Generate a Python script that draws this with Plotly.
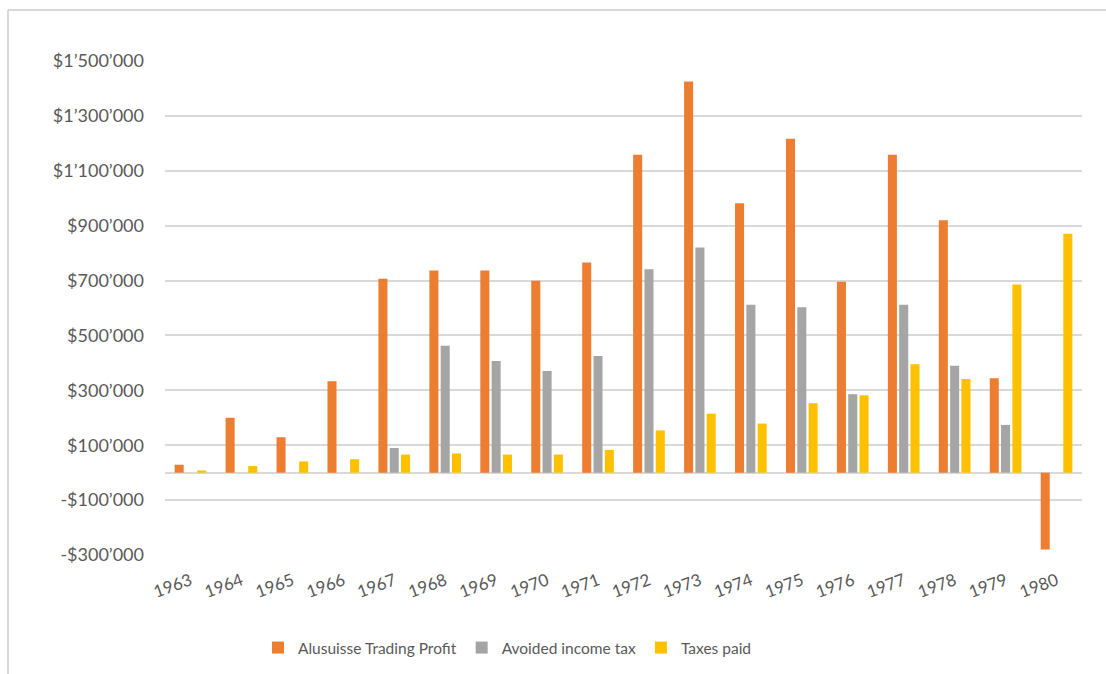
import plotly.graph_objects as go

years = [str(y) for y in range(1963, 1981)]

trading_profit = [29000, 200000, 129000, 333000, 707000, 737000, 737000, 699000, 766000,
                  1158000, 1425000, 982000, 1217000, 696000, 1158000, 920000, 344000, -280000]
avoided_tax = [None, None, None, None, 90000, 462000, 407000, 370000, 425000,
               741000, 820000, 612000, 603000, 286000, 612000, 390000, 174000, None]
taxes_paid = [8000, 24000, 41000, 49000, 66000, 70000, 66000, 66000, 83000,
              154000, 215000, 179000, 253000, 282000, 395000, 341000, 686000, 871000]

y_tick_values = [-300000, -100000, 100000, 300000, 500000, 700000, 900000, 1100000, 1300000, 1500000]
y_tick_labels = ["-$300\u2019000", "-$100\u2019000", "$100\u2019000", "$300\u2019000", "$500\u2019000",
                 "$700\u2019000", "$900\u2019000", "$1\u2019100\u2019000", "$1\u2019300\u2019000",
                 "$1\u2019500\u2019000"]

FONT = "Lato, 'Open Sans', sans-serif"
TEXT = "#595959"
GRID = "#D9D9D9"

fig = go.Figure()
fig.add_trace(go.Bar(name="Alusuisse Trading Profit", x=years, y=trading_profit,
                     marker=dict(color="#ED7D31", line=dict(width=0))))
fig.add_trace(go.Bar(name="Avoided income tax", x=years, y=avoided_tax,
                     marker=dict(color="#A5A5A5", line=dict(width=0))))
fig.add_trace(go.Bar(name="Taxes paid", x=years, y=taxes_paid,
                     marker=dict(color="#FFC000", line=dict(width=0))))

W, H = 1106, 674
L, R, T, B = 165, 24, 61, 119
pw = W - L - R
ph = H - T - B

def px_x(x):
    return (x - L) / pw

def px_y(y):
    return (H - B - y) / ph

fig.update_layout(
    width=W, height=H,
    margin=dict(l=L, r=R, t=T, b=B, pad=0, autoexpand=False),
    paper_bgcolor="white", plot_bgcolor="white",
    barmode="group", bargap=0.334, bargroupgap=0.2,
    font=dict(family=FONT, color=TEXT, size=16),
    showlegend=True,
    legend=dict(orientation="h", xref="container", yref="container",
                x=258 / W, xanchor="left", y=(H - 648) / H, yanchor="middle",
                font=dict(size=15.5, color=TEXT), traceorder="normal"),
    xaxis=dict(type="category", tickangle=-20, showgrid=False, showline=False,
               ticks="", tickfont=dict(size=17, color=TEXT), ticklabelstandoff=12,
               automargin=False, fixedrange=True),
    yaxis=dict(range=[-300000, 1500000], tickvals=y_tick_values, ticktext=y_tick_labels,
               showgrid=True, gridcolor=GRID, gridwidth=1.5,
               zeroline=True, zerolinecolor=GRID, zerolinewidth=1.5,
               showline=False, ticks="", ticklabelstandoff=20,
               tickfont=dict(size=18, color=TEXT), automargin=False, fixedrange=True),
    shapes=[
        dict(type="line", xref="paper", yref="paper", x0=px_x(8), x1=px_x(1110),
             y0=px_y(10), y1=px_y(10), line=dict(color=GRID, width=2)),
        dict(type="line", xref="paper", yref="paper", x0=px_x(8), x1=px_x(8),
             y0=px_y(10), y1=px_y(680), line=dict(color=GRID, width=2)),
    ],
)

fig.write_html("out.html")
